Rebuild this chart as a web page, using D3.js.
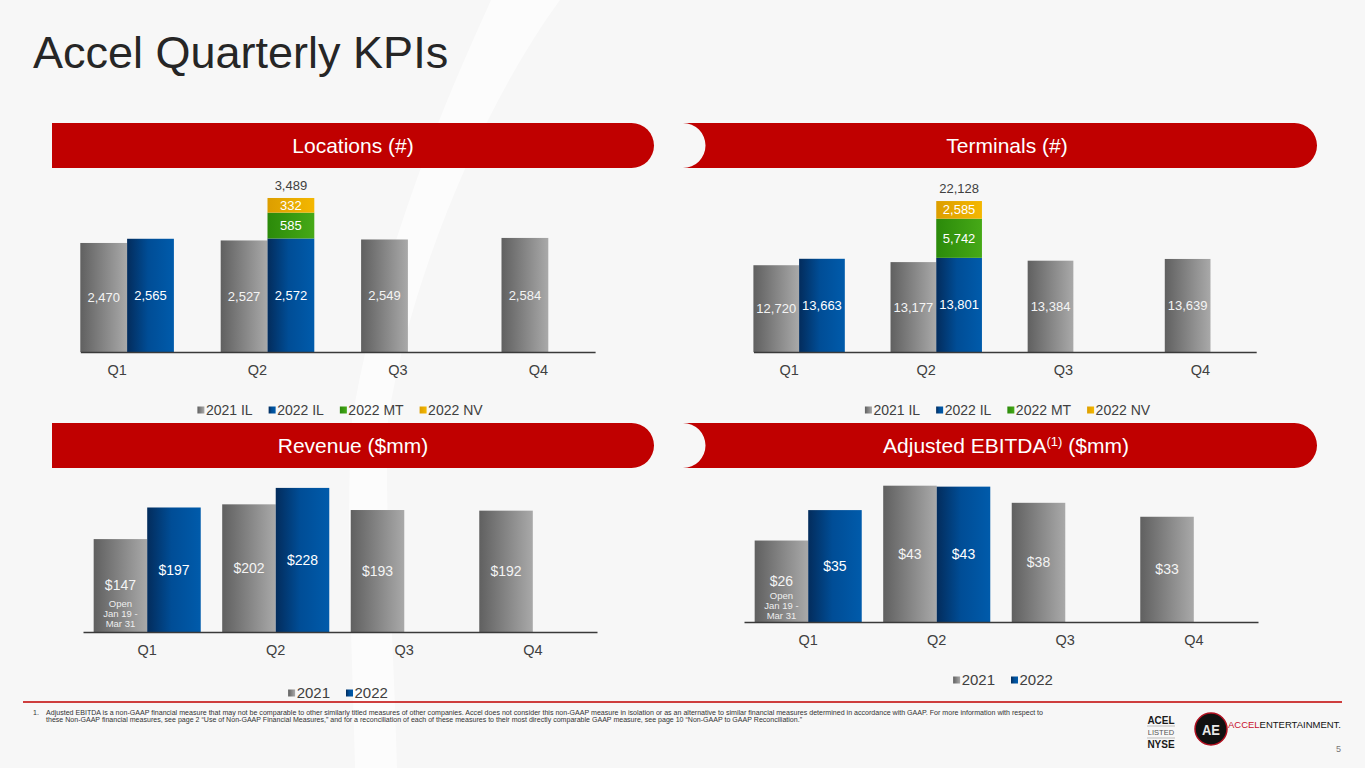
<!DOCTYPE html>
<html>
<head>
<meta charset="utf-8">
<script src="https://cdn.jsdelivr.net/npm/d3@7"></script>
<style>
  body { margin: 0; background: #f8f8f8; }
  svg { display: block; font-family: "Liberation Sans", Arial, sans-serif; }
</style>
</head>
<body>
<svg width="1365" height="768"></svg>
<script>
// ---- data ----
var quarters = ["Q1", "Q2", "Q3", "Q4"];

var locations2021IL = [2470, 2527, 2549, 2584];
var locations2022IL = [2565, 2572, 0, 0];
var locations2022MT = [0, 585, 0, 0];
var locations2022NV = [0, 332, 0, 0];

var terminals2021IL = [12720, 13177, 13384, 13639];
var terminals2022IL = [13663, 13801, 0, 0];
var terminals2022MT = [0, 5742, 0, 0];
var terminals2022NV = [0, 2585, 0, 0];

var revenue2021 = [147, 202, 193, 192];
var revenue2022 = [197, 228, 0, 0];

var ebitda2021 = [25.7, 43.0, 37.6, 33.2];
var ebitda2022 = [35.3, 42.7, 0, 0];

var legendSplit = ["2021 IL", "2022 IL", "2022 MT", "2022 NV"];
var legendYears = ["2021", "2022"];
var q1Note = ["Open", "Jan 19 -", "Mar 31"];

var footnote = [
  "Adjusted EBITDA is a non-GAAP financial measure that may not be comparable to other similarly titled measures of other companies. Accel does not consider this non-GAAP measure in isolation or as an alternative to similar financial measures determined in accordance with GAAP.  For more information with respect to",
  "these Non-GAAP financial measures, see page 2 \u201cUse of Non-GAAP Financial Measures,\u201d and for a reconciliation of each of these measures to their most directly comparable GAAP measure, see page 10 \u201cNon-GAAP to GAAP Reconciliation.\u201d"
];

var svg = d3.select("svg");
var defs = svg.append("defs");

function grad(id, stops) {
  var lg = defs.append("linearGradient").attr("id", id)
      .attr("x1", 0).attr("x2", 1).attr("y1", 0).attr("y2", 0);
  stops.forEach(function(s) {
    lg.append("stop").attr("offset", s[0]).attr("stop-color", s[1]);
  });
}
grad("gGray", [[0, "#606060"], [1, "#a9a9a9"]]);
grad("gBlue", [[0, "#032c5c"], [0.45, "#004d96"], [1, "#005bab"]]);
grad("gGreen", [[0, "#2b8a0a"], [1, "#46a917"]]);
grad("gGold", [[0, "#dc9e00"], [1, "#f4b700"]]);

var fills = {"2021": "url(#gGray)", IL: "url(#gBlue)", MT: "url(#gGreen)", NV: "url(#gGold)"};

// background + soft swoosh
svg.append("rect").attr("width", 1365).attr("height", 768).attr("fill", "#f7f7f7");
svg.append("path")
    .attr("d", "M491,0 C450,90 380,250 352,420 C345,520 352,640 355,768 L397,768 C394,640 384,520 388,420 C410,280 480,110 560,0 Z")
    .attr("fill", "#ffffff").attr("opacity", 0.6);

// title
svg.append("text")
    .attr("x", 33).attr("y", 68)
    .attr("font-size", 45).attr("fill", "#262626")
    .text("Accel Quarterly KPIs");

// red section headers
var headers = [
  {x0: 52, x1: 654, y: 123, tx: 353, concave: false, text: "Locations (#)"},
  {x0: 683, x1: 1317, y: 123, tx: 1007, concave: true, text: "Terminals (#)"},
  {x0: 52, x1: 654, y: 423, tx: 353, concave: false, text: "Revenue ($mm)"},
  {x0: 683, x1: 1317, y: 423, tx: 1006, concave: true, text: "Adjusted EBITDA", sup: "(1)", tail: " ($mm)"}
];
var hh = 45, hr = hh / 2;
headers.forEach(function(h) {
  var d = "M" + h.x0 + "," + h.y +
      " H" + (h.x1 - hr) +
      " A" + hr + "," + hr + " 0 0 1 " + (h.x1 - hr) + "," + (h.y + hh) +
      " H" + h.x0;
  d += h.concave ? " A" + hr + "," + hr + " 0 0 0 " + h.x0 + "," + h.y + " Z" : " Z";
  svg.append("path").attr("d", d).attr("fill", "#c00000");
  var t = svg.append("text")
      .attr("x", h.tx).attr("y", h.y + hh / 2 + 7.5)
      .attr("text-anchor", "middle")
      .attr("font-size", 21).attr("fill", "#fff")
      .text(h.text);
  if (h.sup) {
    t.append("tspan").attr("font-size", 13).attr("baseline-shift", "super").text(h.sup);
    t.append("tspan").text(h.tail);
  }
});

// ---- panels ----
var panels = [
  {prior: locations2021IL, keys: ["IL", "MT", "NV"],
   current: {IL: locations2022IL, MT: locations2022MT, NV: locations2022NV},
   xRange: [80.3, 595.1], pi: 1 / 3, po: 0, base: 352, yMax: 3500, yTop: 197.5,
   fmt: d3.format(","), fs: 13, tickDx: -10,
   legend: legendSplit, legendCx: 340, legendY: 410},
  {prior: terminals2021IL, keys: ["IL", "MT", "NV"],
   current: {IL: terminals2022IL, MT: terminals2022MT, NV: terminals2022NV},
   xRange: [753.4, 1256.2], pi: 1 / 3, po: 0, base: 352, yMax: 22500, yTop: 198.5,
   fmt: d3.format(","), fs: 13, tickDx: -10,
   legend: legendSplit, legendCx: 1007.5, legendY: 410},
  {prior: revenue2021, keys: ["IL"], current: {IL: revenue2022},
   xRange: [83, 597], pi: 0.167, po: 0.083, base: 632, yMax: 250, yTop: 474,
   fmt: d3.format("$.0f"), fs: 14, tickDx: 0, noteTop: -28,
   legend: legendYears, legendCx: 338, legendY: 693},
  {prior: ebitda2021, keys: ["IL"], current: {IL: ebitda2022},
   xRange: [744, 1258], pi: 0.167, po: 0.083, base: 622, yMax: 50, yTop: 463.5,
   fmt: d3.format("$.0f"), fs: 14, tickDx: 0, noteTop: -26,
   legend: legendYears, legendCx: 1003, legendY: 680}
];

panels.forEach(drawPanel);

function drawPanel(p) {
  var g = svg.append("g");

  var x0 = d3.scaleBand()
      .domain(quarters)
      .range(p.xRange)
      .paddingInner(p.pi)
      .paddingOuter(p.po);

  var x1 = d3.scaleBand()
      .domain(["2021", "2022"])
      .range([0, x0.bandwidth()]);

  var y = d3.scaleLinear()
      .domain([0, p.yMax])
      .range([p.base, p.yTop]);

  // prior year bars
  var prior = p.prior.map(function(v, i) { return {q: quarters[i], v: v}; });
  g.append("g").selectAll("rect")
    .data(prior)
    .enter().append("rect")
      .attr("x", function(d) { return x0(d.q) + x1("2021"); })
      .attr("y", function(d) { return y(d.v); })
      .attr("width", x1.bandwidth())
      .attr("height", function(d) { return y(0) - y(d.v); })
      .attr("fill", fills["2021"]);

  g.append("g").selectAll("text")
    .data(prior)
    .enter().append("text")
      .attr("x", function(d) { return x0(d.q) + x1("2021") + x1.bandwidth() / 2; })
      .attr("y", function(d) { return (y(0) + y(d.v)) / 2; })
      .attr("dy", "0.35em")
      .attr("text-anchor", "middle")
      .attr("font-size", p.fs)
      .attr("fill", "#f4f4f4")
      .text(function(d) { return p.fmt(d.v); });

  // current year, stacked by state
  var rows = quarters.map(function(q, i) {
    var r = {q: q};
    p.keys.forEach(function(k) { r[k] = p.current[k][i] || 0; });
    return r;
  });
  var series = d3.stack().keys(p.keys)(rows);

  series.forEach(function(s) {
    var segs = s.filter(function(d) { return d[1] - d[0] > 0; });
    g.append("g").selectAll("rect")
      .data(segs)
      .enter().append("rect")
        .attr("x", function(d) { return x0(d.data.q) + x1("2022"); })
        .attr("y", function(d) { return y(d[1]); })
        .attr("width", x1.bandwidth())
        .attr("height", function(d) { return y(d[0]) - y(d[1]); })
        .attr("fill", fills[s.key]);
    g.append("g").selectAll("text")
      .data(segs)
      .enter().append("text")
        .attr("x", function(d) { return x0(d.data.q) + x1("2022") + x1.bandwidth() / 2; })
        .attr("y", function(d) { return (y(d[0]) + y(d[1])) / 2; })
        .attr("dy", "0.35em")
        .attr("text-anchor", "middle")
        .attr("font-size", p.fs)
        .attr("fill", "#fff")
        .text(function(d) { return p.fmt(d[1] - d[0]); });
  });

  // totals above multi-state stacks
  var totals = rows.filter(function(r) {
    return p.keys.length > 1 && p.keys.slice(1).some(function(k) { return r[k] > 0; });
  });
  g.append("g").selectAll("text")
    .data(totals)
    .enter().append("text")
      .attr("x", function(d) { return x0(d.q) + x1("2022") + x1.bandwidth() / 2; })
      .attr("y", function(d) { return y(d3.sum(p.keys, function(k) { return d[k]; })) - 13; })
      .attr("dy", "0.35em")
      .attr("text-anchor", "middle")
      .attr("font-size", 13)
      .attr("fill", "#404040")
      .text(function(d) { return p.fmt(d3.sum(p.keys, function(k) { return d[k]; })); });

  // "Open Jan 19 - Mar 31" note in the first 2021 bar
  if (p.noteTop) {
    g.append("g").selectAll("text")
      .data(q1Note)
      .enter().append("text")
        .attr("x", x0(quarters[0]) + x1("2021") + x1.bandwidth() / 2)
        .attr("y", function(d, i) { return p.base + p.noteTop + i * 10; })
        .attr("dy", "0.35em")
        .attr("text-anchor", "middle")
        .attr("font-size", 9.5)
        .attr("fill", "#eeeeee")
        .text(function(d) { return d; });
  }

  // category axis
  var ax = g.append("g")
      .attr("transform", "translate(0," + p.base + ")")
      .call(d3.axisBottom(x0).tickSize(0).tickSizeOuter(0).tickPadding(13));
  ax.select(".domain").attr("stroke", "#3a3a3a").attr("stroke-width", 1.6);
  ax.selectAll("text")
      .attr("dx", p.tickDx)
      .attr("font-size", 14.5)
      .attr("font-family", "Liberation Sans, Arial, sans-serif")
      .attr("fill", "#404040");

  // legend
  var keyFills = p.legend.length > 2
      ? [fills["2021"], fills.IL, fills.MT, fills.NV]
      : [fills["2021"], fills.IL];
  var lg = svg.append("g");
  var cx = 0;
  p.legend.forEach(function(lbl, i) {
    var it = lg.append("g").attr("transform", "translate(" + cx + ",0)");
    it.append("rect")
        .attr("x", 0).attr("y", -3.5)
        .attr("width", 7).attr("height", 7)
        .attr("fill", keyFills[i]);
    var t = it.append("text")
        .attr("x", 8.5).attr("dy", "0.35em")
        .attr("font-size", p.legend.length > 2 ? 14 : 15)
        .attr("fill", "#404040")
        .text(lbl);
    cx += 8.5 + t.node().getComputedTextLength() + 16;
  });
  var w = cx - 16;
  lg.attr("transform", "translate(" + (p.legendCx - w / 2) + "," + p.legendY + ")");
}

// ---- footer ----
svg.append("line")
    .attr("x1", 23).attr("x2", 1342)
    .attr("y1", 702).attr("y2", 702)
    .attr("stroke", "#c00000").attr("stroke-width", 1.3);

svg.append("text")
    .attr("x", 33).attr("y", 715)
    .attr("font-size", 7).attr("fill", "#333")
    .text("1.");
svg.append("g").selectAll("text")
  .data(footnote)
  .enter().append("text")
    .attr("x", 46)
    .attr("y", function(d, i) { return 715 + i * 7.3; })
    .attr("font-size", 7)
    .attr("fill", "#333")
    .attr("textLength", function(d, i) { return i === 0 ? 997 : 756; })
    .attr("lengthAdjust", "spacingAndGlyphs")
    .text(function(d) { return d; });

// NYSE listing mark
var nyse = svg.append("g").attr("text-anchor", "middle").attr("fill", "#1a1a1a");
nyse.append("text").attr("x", 1161).attr("y", 720).attr("dy", "0.35em")
    .attr("font-size", 10).attr("font-weight", "bold").text("ACEL");
nyse.append("text").attr("x", 1161).attr("y", 732.5).attr("dy", "0.35em")
    .attr("font-size", 7.5).attr("fill", "#555").text("LISTED");
nyse.append("text").attr("x", 1161).attr("y", 744.5).attr("dy", "0.35em")
    .attr("font-size", 10).attr("font-weight", "bold").text("NYSE");
[726, 738].forEach(function(yy) {
  nyse.append("line").attr("x1", 1147).attr("x2", 1175)
      .attr("y1", yy).attr("y2", yy).attr("stroke", "#999").attr("stroke-width", 0.6);
});

// company logo
svg.append("circle").attr("cx", 1211).attr("cy", 729).attr("r", 16)
    .attr("fill", "#111").attr("stroke", "#b01020").attr("stroke-width", 1.5);
svg.append("text").attr("x", 1211).attr("y", 730).attr("dy", "0.35em")
    .attr("text-anchor", "middle").attr("font-size", 15).attr("font-weight", "bold")
    .attr("fill", "#e8e8e8").attr("font-family", "Liberation Sans Narrow, Liberation Sans, sans-serif")
    .attr("textLength", 18).attr("lengthAdjust", "spacingAndGlyphs")
    .text("AE");
var brand = svg.append("text").attr("x", 1228).attr("y", 725).attr("dy", "0.35em")
    .attr("font-size", 9).attr("textLength", 113).attr("lengthAdjust", "spacingAndGlyphs");
brand.append("tspan").attr("fill", "#c8102e").text("ACCEL");
brand.append("tspan").attr("fill", "#111").text("ENTERTAINMENT.");

svg.append("text").attr("x", 1341).attr("y", 749).attr("dy", "0.35em")
    .attr("text-anchor", "end").attr("font-size", 9).attr("fill", "#777").text("5");
</script>
</body>
</html>
